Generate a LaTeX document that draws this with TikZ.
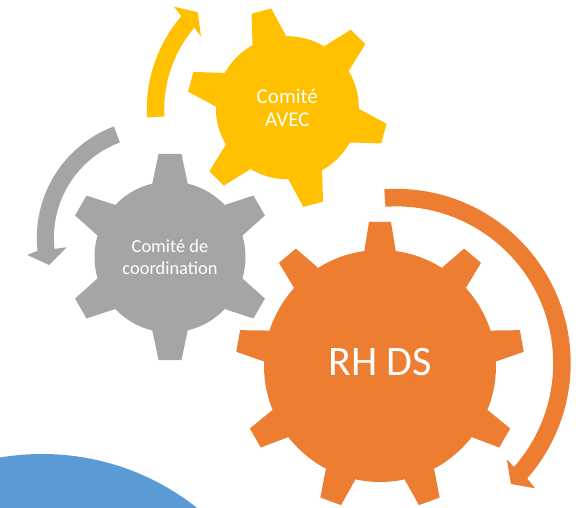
\documentclass[tikz,border=0pt]{standalone}
\usepackage{fontspec}
\setmainfont{Carlito}
\definecolor{rhorange}{HTML}{ED7D31}
\definecolor{avecgold}{HTML}{FFC000}
\definecolor{coordgray}{HTML}{A5A5A5}
\definecolor{cornerblue}{HTML}{5B9BD5}
\tikzset{
  gearbody/.style={circle,inner sep=0pt,text=white,align=center}
}
% color, node, angles, base radius, base half width, tip radius, tip half width
\newcommand{\gearteeth}[7]{
  \foreach \a in {#3}
    \fill[#1,shift={(#2.center)},rotate=\a] (#4,-#5) -- (#6,-#7) -- (#6,#7) -- (#4,#5) -- cycle;
}
% color, center, inner radius, outer radius, start, end, outer wing, tip, inner wing
\newcommand{\blockarrow}[9]{
  \fill[#1] ([shift={(#2)}]#5:#4) arc[start angle=#5,end angle=#6,radius=#4]
    -- (#7) -- (#8) -- (#9)
    -- ([shift={(#2)}]#6:#3) arc[start angle=#6,end angle=#5,radius=#3] -- cycle;
}
\begin{document}
\begin{tikzpicture}[x=1pt,y=1pt]
  \useasboundingbox (0,0) rectangle (576,507);
  \begin{scope}
    \clip (0,0) rectangle (576,507);
    \fill[cornerblue] (42,-197) circle (250);
  \end{scope}

  \node[gearbody,fill=avecgold,minimum size=143pt,font=\fontsize{21}{23.6}\selectfont] (avec) at (287.3,399.3) {Comité\\AVEC};
  \node[gearbody,fill=coordgray,minimum size=151pt,font=\fontsize{18.4}{21.4}\selectfont] (coord) at (170,250) {Comité de\\coordination};
  \node[gearbody,fill=rhorange,minimum size=232pt,text depth=8pt,font=\fontsize{42}{44}\selectfont] (rhds) at (380,141) {RH DS};

  \gearteeth{avecgold}{avec}{105,165,...,405}{69.4}{17.4}{100}{10.2}
  \gearteeth{coordgray}{coord}{90,150,...,390}{72}{18}{103}{11.5}
  \gearteeth{rhorange}{rhds}{90,130,...,410}{115}{15.7}{144}{11}

  \blockarrow{avecgold}{290,397.6}{125.8}{143.2}{183.2}{139.4}{174,500.3}{197.7,494.7}{201,470.3}
  \blockarrow{coordgray}{155.7,269.3}{101.8}{118.9}{110.6}{186.3}{27.3,252}{49,242}{66.7,259.7}
  \blockarrow{rhorange}{396.4,143.8}{156.8}{174.3}{94}{-41.4}{535,18.7}{511,23}{506.7,47.7}
\end{tikzpicture}
\end{document}
